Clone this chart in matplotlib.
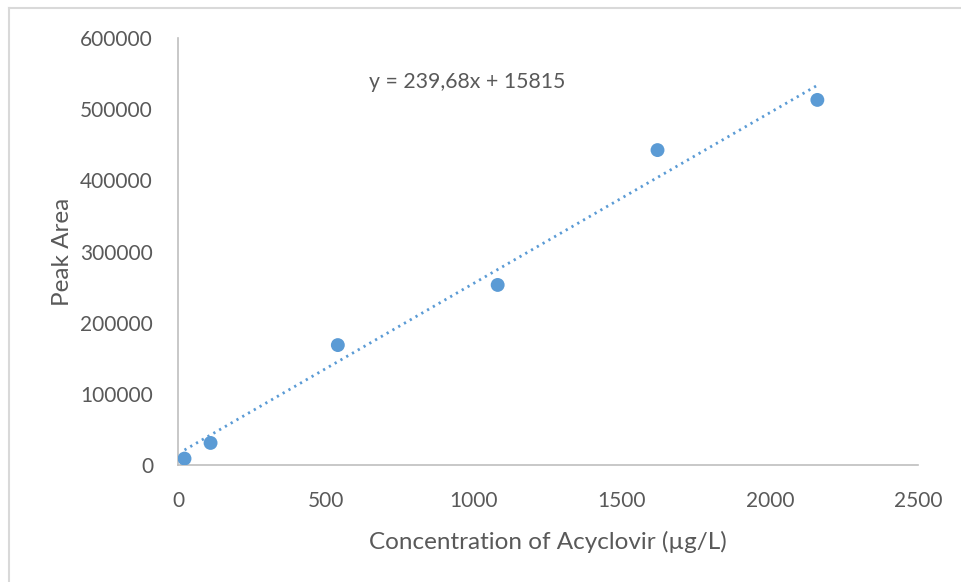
import matplotlib
matplotlib.use("Agg")
import matplotlib.pyplot as plt
from matplotlib.lines import Line2D

plt.rcParams['font.family'] = ['Lato', 'DejaVu Sans']

# Calibration data: concentration (µg/L) vs. peak area
concentration = [22, 110, 540, 1080, 1620, 2160]
peak_area = [9000, 31000, 168500, 253000, 442500, 513000]

# Linear trendline coefficients
slope = 239.68
intercept = 15815

x_ticks = [0, 500, 1000, 1500, 2000, 2500]
y_ticks = [0, 100000, 200000, 300000, 400000, 500000, 600000]

blue = '#5B9BD5'
text_gray = '#595959'
axis_gray = '#BFBFBF'

fig = plt.figure(figsize=(9.61, 5.82), dpi=100)
ax = fig.add_axes([178 / 961, 1 - 465 / 582, (918 - 178) / 961, (465 - 38) / 582])

x0, x1 = min(concentration), max(concentration)
ax.plot([x0, x1], [slope * x0 + intercept, slope * x1 + intercept],
        linestyle=(0, (0.8, 1.6)), color=blue, linewidth=2.0,
        dash_capstyle='butt', zorder=2)
ax.scatter(concentration, peak_area, s=100, color=blue, edgecolors='none', zorder=3)

ax.set_xlim(0, 2500)
ax.set_ylim(0, 600000)
ax.set_xticks(x_ticks)
ax.set_yticks(y_ticks)
ax.set_xticklabels([str(v) for v in x_ticks])
ax.set_yticklabels([str(v) for v in y_ticks])
ax.tick_params(length=0, labelsize=15, labelcolor=text_gray)
ax.tick_params(axis='x', pad=19)
ax.tick_params(axis='y', pad=18)

for side in ['top', 'right']:
    ax.spines[side].set_visible(False)
for side in ['left', 'bottom']:
    ax.spines[side].set_color(axis_gray)
    ax.spines[side].set_linewidth(1.2)

ax.set_xlabel('Concentration of Acyclovir (µg/L)', fontsize=17.5, color=text_gray, labelpad=14)
ax.set_ylabel('Peak Area', fontsize=17.5, color=text_gray, labelpad=5)

ax.text(0.391, 0.897, 'y = 239,68x + 15815', transform=ax.transAxes,
        fontsize=15.3, color=text_gray, ha='center', va='center')

# Chart-area frame along the top and left edges
fig.add_artist(Line2D([9 / 961, 1.0], [1 - 8 / 582, 1 - 8 / 582],
                      transform=fig.transFigure, color='#D9D9D9', linewidth=1.5))
fig.add_artist(Line2D([9 / 961, 9 / 961], [0.0, 1 - 8 / 582],
                      transform=fig.transFigure, color='#D9D9D9', linewidth=1.5))

fig.savefig('out.png', dpi=100, facecolor='white')
